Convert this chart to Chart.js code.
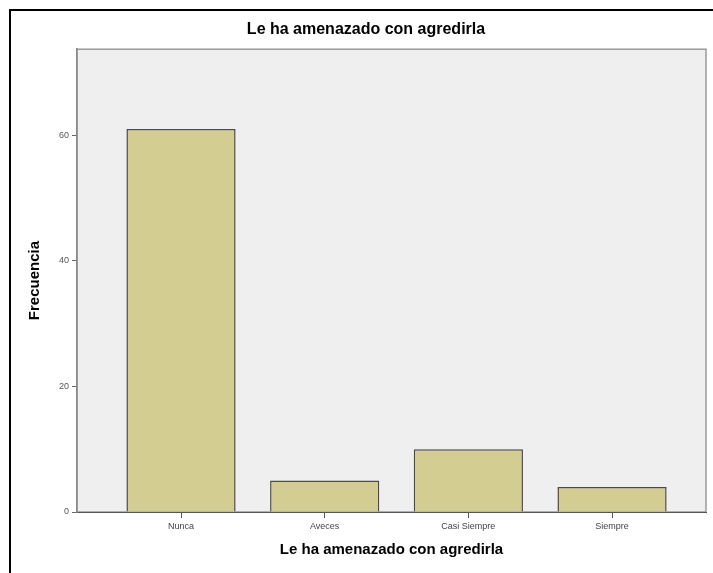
<!DOCTYPE html>
<html>
<head>
<meta charset="utf-8">
<script src="https://cdn.jsdelivr.net/npm/chart.js@4.4.1/dist/chart.umd.min.js"></script>
<style>
  html, body { margin: 0; padding: 0; background: #fff; }
  #wrap { width: 713px; height: 573px; position: relative; }
</style>
</head>
<body>
<div id="wrap"><canvas id="chart"></canvas></div>
<script>
// data
const categories = ['Nunca', 'Aveces', 'Casi Siempre', 'Siempre'];
const frecuencias = [61, 5, 10, 4];
const yTicks = [0, 20, 40, 60];

// frame + grey plot background (SPSS look)
const plotBg = {
    id: 'plotBg',
    beforeDraw(chart) {
        const ctx = chart.ctx;
        const a = chart.chartArea;
        ctx.save();
        ctx.strokeStyle = '#000';
        ctx.lineWidth = 2;
        ctx.beginPath();
        ctx.moveTo(10, chart.height);
        ctx.lineTo(10, 10);
        ctx.lineTo(chart.width, 10);
        ctx.stroke();

        ctx.fillStyle = '#efefef';
        ctx.fillRect(a.left, a.top, a.right - a.left, a.bottom - a.top);
        ctx.strokeStyle = '#9a9a9a';
        ctx.lineWidth = 1.5;
        ctx.strokeRect(a.left, a.top, a.right - a.left, a.bottom - a.top);
        ctx.restore();
    }
};

new Chart(document.getElementById('chart'), {
    type: 'bar',
    data: {
        datasets: [{
            data: frecuencias.map(function (v, i) { return { x: i, y: v }; }),
            backgroundColor: '#d4cd92',
            borderColor: '#4a4a4a',
            borderWidth: 1.5,
            categoryPercentage: 0.8,
            barPercentage: 0.95
        }]
    },
    options: {
        responsive: true,
        maintainAspectRatio: false,
        animation: false,
        layout: { padding: { left: 26, right: 7, top: 0, bottom: 14 } },
        plugins: {
            legend: { display: false },
            tooltip: { enabled: false },
            title: {
                display: true,
                text: 'Le ha amenazado con agredirla',
                color: '#000',
                font: { family: 'Liberation Sans', size: 16, weight: 'bold' },
                padding: { top: 20, bottom: 10 }
            }
        },
        scales: {
            x: {
                type: 'linear',
                offset: false,
                min: -0.724,
                max: 3.654,
                afterBuildTicks: function (scale) {
                    scale.ticks = categories.map(function (c, i) { return { value: i }; });
                },
                afterFit: function (scale) { scale.height = 47; },
                ticks: {
                    callback: function (v) { return categories[v]; },
                    color: '#444',
                    font: { family: 'Liberation Sans', size: 9 },
                    padding: 3,
                    maxRotation: 0
                },
                grid: { offset: false, drawOnChartArea: false, tickLength: 6, color: '#555' },
                border: { color: '#555', width: 1 },
                title: {
                    display: true,
                    text: 'Le ha amenazado con agredirla',
                    color: '#000',
                    font: { family: 'Liberation Sans', size: 15, weight: 'bold' },
                    padding: { top: 0, bottom: 0 }
                }
            },
            y: {
                min: 0,
                max: 73.7,
                afterBuildTicks: function (scale) {
                    scale.ticks = yTicks.map(function (v) { return { value: v }; });
                },
                afterFit: function (scale) { scale.width = 51; },
                ticks: {
                    color: '#555',
                    font: { family: 'Liberation Sans', size: 9 },
                    padding: 3
                },
                grid: { drawOnChartArea: false, tickLength: 5, color: '#666' },
                border: { color: '#888', width: 1.5 },
                title: {
                    display: true,
                    text: 'Frecuencia',
                    color: '#000',
                    font: { family: 'Liberation Sans', size: 15, weight: 'bold' },
                    padding: { top: 0, bottom: 0 }
                }
            }
        }
    },
    plugins: [plotBg]
});
</script>
</body>
</html>
